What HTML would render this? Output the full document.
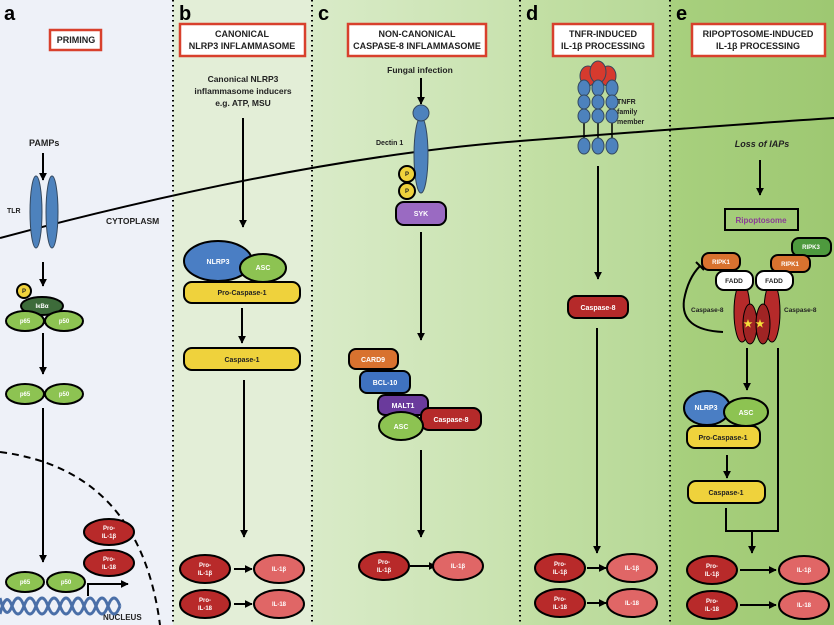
<!DOCTYPE html>
<html><head><meta charset="utf-8"><style>
html,body{margin:0;padding:0;width:834px;height:625px;overflow:hidden;background:#fff}
svg{display:block}
text{font-family:"Liberation Sans",sans-serif;font-weight:bold}
</style></head><body>
<svg width="834" height="625" viewBox="0 0 834 625" xmlns="http://www.w3.org/2000/svg">
<defs>
<marker id="ah" viewBox="0 0 10 10" refX="9" refY="5" markerWidth="4" markerHeight="4" orient="auto"><path d="M0,0 L10,5 L0,10 z" fill="#000"/></marker>
<linearGradient id="gc" x1="0" x2="1" y1="0" y2="0"><stop offset="0" stop-color="#d9ebc8"/><stop offset="1" stop-color="#c8e2ae"/></linearGradient>
<linearGradient id="gd" x1="0" x2="1" y1="0" y2="0"><stop offset="0" stop-color="#c4e0a6"/><stop offset="1" stop-color="#b6d896"/></linearGradient>
<linearGradient id="ge" x1="0" x2="1" y1="0" y2="0"><stop offset="0" stop-color="#a8d07e"/><stop offset="1" stop-color="#9ec872"/></linearGradient>
</defs>
<rect x="0" y="0" width="173" height="625" fill="#eef1f8"/>
<rect x="173" y="0" width="139" height="625" fill="#e3eed7"/>
<rect x="312" y="0" width="208" height="625" fill="url(#gc)"/>
<rect x="520" y="0" width="150" height="625" fill="url(#gd)"/>
<rect x="670" y="0" width="164" height="625" fill="url(#ge)"/>
<g stroke="#000" stroke-width="2" stroke-dasharray="1.5 3.5">
<line x1="173" y1="0" x2="173" y2="625"/><line x1="312" y1="0" x2="312" y2="625"/>
<line x1="520" y1="0" x2="520" y2="625"/><line x1="670" y1="0" x2="670" y2="625"/>
</g>
<!-- membrane -->
<path d="M0,238 Q300,158 520,141 T834,118" fill="none" stroke="#000" stroke-width="2"/>
<!-- nucleus -->
<path d="M0,452 Q140,470 160,625" fill="none" stroke="#000" stroke-width="2" stroke-dasharray="7 5"/>

<g font-size="20" fill="#000"><text x="4" y="20">a</text><text x="179" y="20">b</text><text x="318" y="20">c</text><text x="526" y="20">d</text><text x="676" y="20">e</text></g>

<g fill="#fff" stroke="#d8402c" stroke-width="2.5">
<rect x="50" y="30" width="51" height="20"/>
<rect x="180" y="24" width="125" height="32"/>
<rect x="348" y="24" width="138" height="32"/>
<rect x="553" y="24" width="100" height="32"/>
<rect x="692" y="24" width="133" height="32"/>
</g>
<g font-size="9" text-anchor="middle" fill="#222">
<text x="76" y="43">PRIMING</text>
<text x="242" y="37">CANONICAL</text><text x="242" y="49">NLRP3 INFLAMMASOME</text>
<text x="417" y="37">NON-CANONICAL</text><text x="417" y="49">CASPASE-8 INFLAMMASOME</text>
<text x="603" y="37">TNFR-INDUCED</text><text x="603" y="49">IL-1β PROCESSING</text>
<text x="758" y="37">RIPOPTOSOME-INDUCED</text><text x="758" y="49">IL-1β PROCESSING</text>
</g>

<g stroke="#000" stroke-width="2" fill="none" marker-end="url(#ah)">
<line x1="43" y1="153" x2="43" y2="180"/>
<line x1="43" y1="262" x2="43" y2="286"/>
<line x1="43" y1="333" x2="43" y2="374"/>
<line x1="43" y1="408" x2="43" y2="562"/>
<path d="M88,596 V584 H128"/>
<line x1="243" y1="118" x2="243" y2="227"/>
<line x1="242" y1="308" x2="242" y2="343"/>
<line x1="244" y1="380" x2="244" y2="537"/>
<line x1="234" y1="569" x2="252" y2="569"/>
<line x1="234" y1="604" x2="252" y2="604"/>
<line x1="421" y1="78" x2="421" y2="104"/>
<line x1="421" y1="232" x2="421" y2="340"/>
<line x1="421" y1="450" x2="421" y2="537"/>
<line x1="410" y1="566" x2="436" y2="566"/>
<line x1="598" y1="166" x2="598" y2="279"/>
<line x1="597" y1="328" x2="597" y2="553"/>
<line x1="587" y1="568" x2="606" y2="568"/>
<line x1="587" y1="603" x2="606" y2="603"/>
<line x1="760" y1="160" x2="760" y2="195"/>
<line x1="747" y1="348" x2="747" y2="390"/>
<line x1="727" y1="455" x2="727" y2="478"/>
<line x1="752" y1="531" x2="752" y2="553"/>
<line x1="740" y1="570" x2="776" y2="570"/>
<line x1="740" y1="605" x2="776" y2="605"/>
</g>
<path d="M726,508 V531 H778 V348" fill="none" stroke="#000" stroke-width="2"/>
<path d="M723,332 Q680,330 684,300 Q688,278 700,266" fill="none" stroke="#000" stroke-width="2"/>
<line x1="696" y1="262" x2="704" y2="270" stroke="#000" stroke-width="2"/>

<!-- panel a -->
<g font-size="9" fill="#222"><text x="29" y="146">PAMPs</text><text x="7" y="213" font-size="7">TLR</text><text x="106" y="224" font-size="8.5">CYTOPLASM</text><text x="103" y="620" font-size="8">NUCLEUS</text></g>
<g stroke="#34485e" stroke-width="1" fill="#4d82bd"><ellipse cx="36" cy="212" rx="6" ry="36"/><ellipse cx="52" cy="212" rx="6" ry="36"/></g>
<g fill="none" stroke="#4a6fa8" stroke-width="3">
<path d="M0,614 Q6,590 12,606 T24,606 T36,606 T48,606 T60,606 T72,606 T84,606 T96,606 T108,606 T120,606"/>
<path d="M0,598 Q6,622 12,606 T24,606 T36,606 T48,606 T60,606 T72,606 T84,606 T96,606 T108,606 T120,606"/>
</g>
<g stroke="#000" stroke-width="2">
<ellipse cx="42" cy="306" rx="21" ry="9" fill="#3d6b3a"/>
<circle cx="24" cy="291" r="7" fill="#f0d23c"/>
<ellipse cx="25" cy="321" rx="19" ry="10" fill="#8dc352"/><ellipse cx="64" cy="321" rx="19" ry="10" fill="#8dc352"/>
<ellipse cx="25" cy="394" rx="19" ry="10" fill="#8dc352"/><ellipse cx="64" cy="394" rx="19" ry="10" fill="#8dc352"/>
<ellipse cx="25" cy="582" rx="19" ry="10" fill="#8dc352"/><ellipse cx="66" cy="582" rx="19" ry="10" fill="#8dc352"/>
</g>
<g font-size="6" fill="#fff" text-anchor="middle"><text x="42" y="308">IκBα</text><text x="25" y="323">p65</text><text x="64" y="323">p50</text><text x="25" y="396">p65</text><text x="64" y="396">p50</text><text x="25" y="584">p65</text><text x="66" y="584">p50</text></g>
<text x="24" y="293" font-size="6" text-anchor="middle" fill="#222">P</text>

<g stroke="#000" stroke-width="2">
<ellipse cx="109" cy="532" rx="25" ry="13" fill="#b82a2a"/><ellipse cx="109" cy="563" rx="25" ry="13" fill="#b82a2a"/>
<ellipse cx="205" cy="569" rx="25" ry="14" fill="#b82a2a"/><ellipse cx="279" cy="569" rx="25" ry="14" fill="#e06666"/>
<ellipse cx="205" cy="604" rx="25" ry="14" fill="#b82a2a"/><ellipse cx="279" cy="604" rx="25" ry="14" fill="#e06666"/>
<ellipse cx="384" cy="566" rx="25" ry="14" fill="#b82a2a"/><ellipse cx="458" cy="566" rx="25" ry="14" fill="#e06666"/>
<ellipse cx="560" cy="568" rx="25" ry="14" fill="#b82a2a"/><ellipse cx="632" cy="568" rx="25" ry="14" fill="#e06666"/>
<ellipse cx="560" cy="603" rx="25" ry="14" fill="#b82a2a"/><ellipse cx="632" cy="603" rx="25" ry="14" fill="#e06666"/>
<ellipse cx="712" cy="570" rx="25" ry="14" fill="#b82a2a"/><ellipse cx="804" cy="570" rx="25" ry="14" fill="#e06666"/>
<ellipse cx="712" cy="605" rx="25" ry="14" fill="#b82a2a"/><ellipse cx="804" cy="605" rx="25" ry="14" fill="#e06666"/>
</g>
<g font-size="6" fill="#fff" text-anchor="middle">
<text x="109" y="530">Pro-</text><text x="109" y="538">IL-1β</text><text x="109" y="561">Pro-</text><text x="109" y="569">IL-18</text>
<text x="205" y="567">Pro-</text><text x="205" y="575">IL-1β</text><text x="279" y="571">IL-1β</text>
<text x="205" y="602">Pro-</text><text x="205" y="610">IL-18</text><text x="279" y="606">IL-18</text>
<text x="384" y="564">Pro-</text><text x="384" y="572">IL-1β</text><text x="458" y="568">IL-1β</text>
<text x="560" y="566">Pro-</text><text x="560" y="574">IL-1β</text><text x="632" y="570">IL-1β</text>
<text x="560" y="601">Pro-</text><text x="560" y="609">IL-18</text><text x="632" y="605">IL-18</text>
<text x="712" y="568">Pro-</text><text x="712" y="576">IL-1β</text><text x="804" y="572">IL-1β</text>
<text x="712" y="603">Pro-</text><text x="712" y="611">IL-18</text><text x="804" y="607">IL-18</text>
</g>

<!-- panel b -->
<g font-size="8.5" fill="#222" text-anchor="middle"><text x="243" y="82">Canonical NLRP3</text><text x="243" y="94">inflammasome inducers</text><text x="243" y="106">e.g. ATP, MSU</text></g>
<g stroke="#000" stroke-width="2">
<ellipse cx="218" cy="261" rx="34" ry="20" fill="#4a7ec4"/>
<ellipse cx="263" cy="268" rx="23" ry="14" fill="#8dc352"/>
<rect x="184" y="282" width="116" height="21" rx="8" fill="#efd23c"/>
<rect x="184" y="348" width="116" height="22" rx="8" fill="#efd23c"/>
</g>
<g font-size="7" text-anchor="middle"><text x="218" y="264" fill="#fff">NLRP3</text><text x="263" y="270" fill="#fff">ASC</text><text x="242" y="295" fill="#222">Pro-Caspase-1</text><text x="242" y="362" fill="#222">Caspase-1</text></g>

<!-- panel c -->
<text x="420" y="73" font-size="8.5" text-anchor="middle" fill="#222">Fungal infection</text>
<text x="376" y="145" font-size="7" fill="#222">Dectin 1</text>
<g stroke="#000" stroke-width="2">
<ellipse cx="421" cy="155" rx="7" ry="38" fill="#4d82bd" stroke="#34485e" stroke-width="1"/>
<circle cx="421" cy="113" r="8" fill="#4d82bd" stroke="#34485e" stroke-width="1"/>
<circle cx="407" cy="174" r="8" fill="#efd23c"/><circle cx="407" cy="191" r="8" fill="#efd23c"/>
<rect x="396" y="202" width="50" height="23" rx="8" fill="#9a6ac2"/>
<rect x="349" y="349" width="49" height="20" rx="7" fill="#d8722f"/>
<rect x="360" y="371" width="50" height="22" rx="7" fill="#3f72c0"/>
<rect x="378" y="395" width="50" height="20" rx="7" fill="#6a3a9c"/>
<rect x="421" y="408" width="60" height="22" rx="8" fill="#b52a2a"/>
<ellipse cx="401" cy="426" rx="22" ry="14" fill="#8dc352"/>
</g>
<g font-size="7" text-anchor="middle" fill="#fff"><text x="407" y="176" fill="#222" font-size="6">P</text><text x="407" y="193" fill="#222" font-size="6">P</text>
<text x="421" y="216">SYK</text><text x="373" y="362">CARD9</text><text x="385" y="385">BCL-10</text><text x="403" y="408">MALT1</text><text x="451" y="422">Caspase-8</text><text x="401" y="429">ASC</text></g>

<!-- panel d -->
<g stroke="#000" stroke-width="1.5">
<line x1="584" y1="120" x2="584" y2="146"/><line x1="598" y1="120" x2="598" y2="146"/><line x1="612" y1="120" x2="612" y2="146"/>
</g>
<g stroke="#34485e" stroke-width="1">
<ellipse cx="588" cy="76" rx="8" ry="10" fill="#d63a2e"/><ellipse cx="608" cy="76" rx="8" ry="10" fill="#d63a2e"/><ellipse cx="598" cy="72" rx="8" ry="11" fill="#d63a2e"/>
<g fill="#4d82bd">
<ellipse cx="584" cy="88" rx="6" ry="8"/><ellipse cx="598" cy="88" rx="6" ry="8"/><ellipse cx="612" cy="88" rx="6" ry="8"/>
<ellipse cx="584" cy="102" rx="6" ry="7"/><ellipse cx="598" cy="102" rx="6" ry="7"/><ellipse cx="612" cy="102" rx="6" ry="7"/>
<ellipse cx="584" cy="116" rx="6" ry="7"/><ellipse cx="598" cy="116" rx="6" ry="7"/><ellipse cx="612" cy="116" rx="6" ry="7"/>
<ellipse cx="584" cy="146" rx="6" ry="8"/><ellipse cx="598" cy="146" rx="6" ry="8"/><ellipse cx="612" cy="146" rx="6" ry="8"/>
</g></g>
<g font-size="7" fill="#222"><text x="617" y="104">TNFR</text><text x="617" y="114">family</text><text x="617" y="124">member</text></g>
<rect x="568" y="296" width="60" height="22" rx="8" fill="#b52a2a" stroke="#000" stroke-width="2"/>
<text x="598" y="310" font-size="7" text-anchor="middle" fill="#fff">Caspase-8</text>

<!-- panel e -->
<text x="762" y="147" font-size="9" font-style="italic" text-anchor="middle" fill="#222">Loss of IAPs</text>
<rect x="725" y="209" width="73" height="21" fill="none" stroke="#000" stroke-width="2"/>
<text x="761" y="223" font-size="8" text-anchor="middle" fill="#8a3c96">Ripoptosome</text>
<g stroke="#000" stroke-width="2">
<ellipse cx="742" cy="312" rx="8" ry="30" fill="#b52a2a" stroke-width="1"/><ellipse cx="772" cy="312" rx="8" ry="30" fill="#b52a2a" stroke-width="1"/>
<ellipse cx="750" cy="324" rx="7" ry="20" fill="#a02424" stroke-width="1"/><ellipse cx="763" cy="324" rx="7" ry="20" fill="#a02424" stroke-width="1"/>
<rect x="792" y="238" width="39" height="18" rx="7" fill="#4e9a3e"/>
<rect x="702" y="253" width="38" height="17" rx="7" fill="#d8722f"/>
<rect x="771" y="255" width="39" height="17" rx="7" fill="#d8722f"/>
<rect x="716" y="271" width="37" height="19" rx="8" fill="#fff"/>
<rect x="756" y="271" width="37" height="19" rx="8" fill="#fff"/>
<ellipse cx="707" cy="408" rx="23" ry="17" fill="#4a7ec4"/>
<ellipse cx="746" cy="412" rx="22" ry="14" fill="#8dc352"/>
<rect x="687" y="426" width="73" height="22" rx="8" fill="#efd23c"/>
<rect x="688" y="481" width="77" height="22" rx="8" fill="#efd23c"/>
</g>
<g font-size="10" fill="#f5e03a" text-anchor="middle"><text x="748" y="327">★</text><text x="760" y="327">★</text></g>
<g font-size="6" text-anchor="middle" fill="#fff"><text x="811" y="249">RIPK3</text><text x="721" y="264">RIPK1</text><text x="790" y="266">RIPK1</text></g>
<g font-size="6.5" text-anchor="middle" fill="#222"><text x="734" y="283">FADD</text><text x="774" y="283">FADD</text></g>
<g font-size="6.5" fill="#222"><text x="691" y="312">Caspase-8</text><text x="784" y="312">Caspase-8</text></g>
<g font-size="7" text-anchor="middle"><text x="706" y="410" fill="#fff">NLRP3</text><text x="746" y="415" fill="#fff">ASC</text><text x="723" y="440" fill="#222">Pro-Caspase-1</text><text x="726" y="495" fill="#222">Caspase-1</text></g>
</svg>
</body></html>
